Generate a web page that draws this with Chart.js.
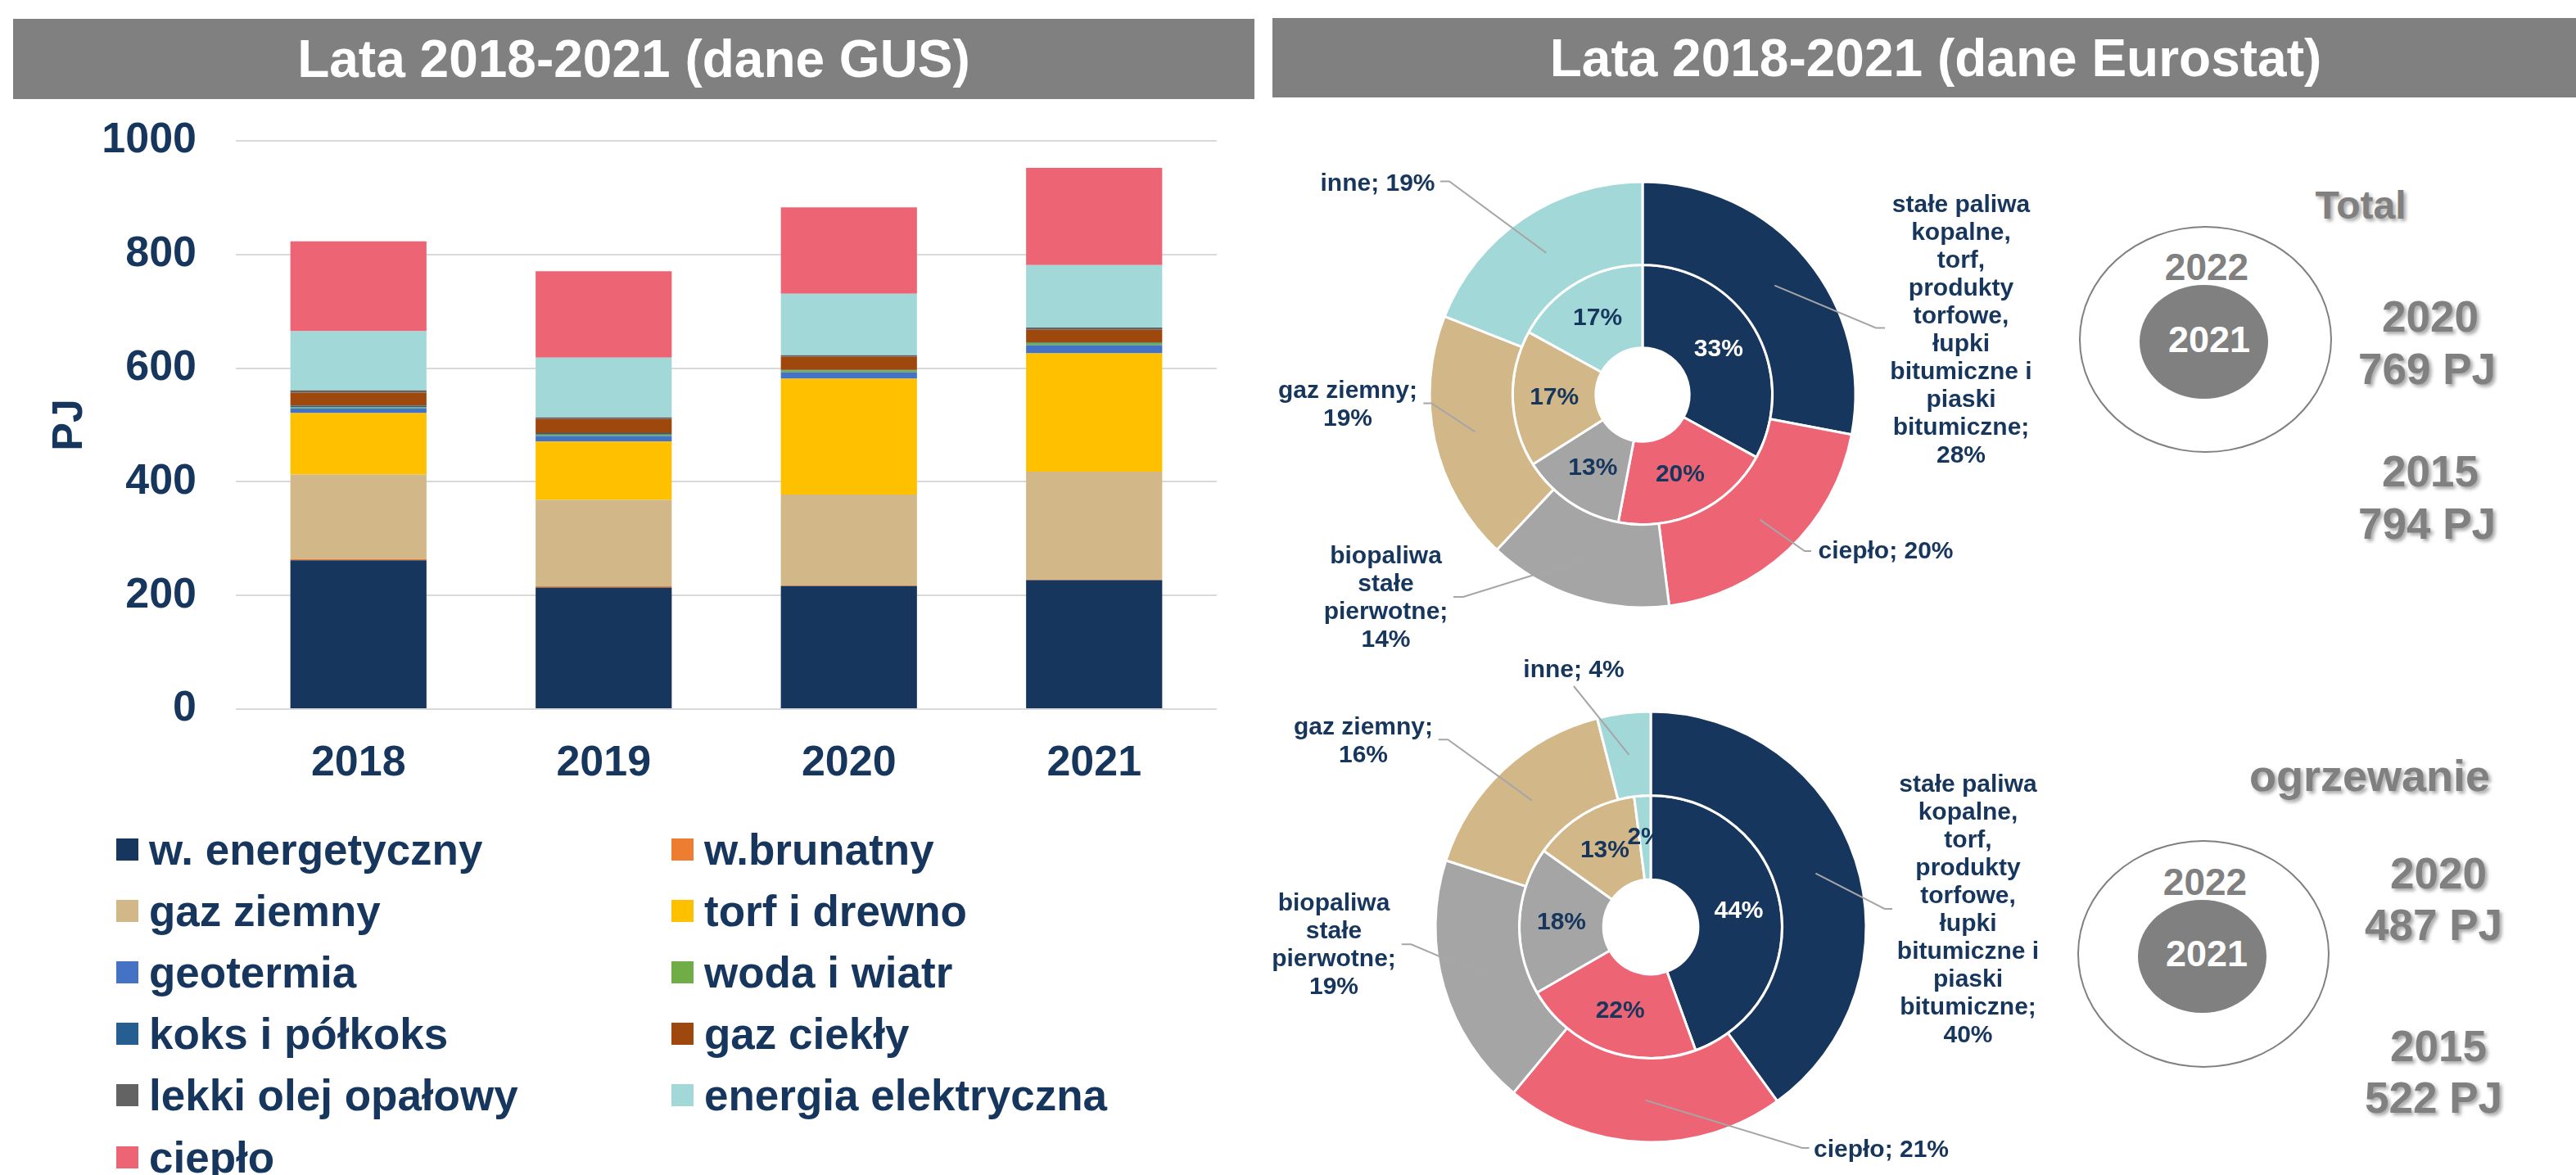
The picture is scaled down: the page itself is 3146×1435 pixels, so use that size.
<!DOCTYPE html>
<html lang="pl">
<head>
<meta charset="utf-8">
<title>Lata 2018-2021</title>
<script src="https://cdn.jsdelivr.net/npm/chart.js@4.4.1/dist/chart.umd.min.js"></script>
<style>
  html, body { margin: 0; padding: 0; background: #fff; }
  body {
    width: 3146px; height: 1435px; position: relative; overflow: hidden;
    font-family: "Liberation Sans", Arial, sans-serif; font-weight: bold;
  }
  canvas { position: absolute; }
  .head {
    position: absolute; background: #808080; color: #fff; font-size: 64px;
    display: flex; align-items: center; justify-content: center; box-sizing: border-box;
  }
  .note {
    position: absolute; transform: translate(-50%, -50%); line-height: 1;
    color: #808080; white-space: nowrap;
  }
  .shadow { text-shadow: 3px 3px 4px rgba(0, 0, 0, 0.35); }
  .ring { position: absolute; border-radius: 50%; box-sizing: border-box; }
  .leg { position: absolute; height: 60px; display: flex; align-items: center; color: #17365D; font-size: 53px; white-space: nowrap; }
  .leg span.box { width: 27px; height: 27px; margin-right: 13px; }
</style>
</head>
<body>

<div class="head" style="left:16px;top:23px;width:1516px;height:98px;">Lata 2018-2021 (dane GUS)</div>
<div class="head" style="left:1554px;top:22px;width:1592px;height:97px;padding-left:28px;">Lata 2018-2021 (dane Eurostat)</div>

<canvas id="barChart" width="1540" height="820" style="left:0;top:140px;"></canvas>
<div id="legend"></div>

<canvas id="totalChart" width="955" height="665" style="left:1545px;top:125px;"></canvas>
<canvas id="heatChart" width="955" height="645" style="left:1545px;top:790px;"></canvas>

<!-- Total -->
<div class="note shadow" style="left:2883px;top:251px;font-size:48px;">Total</div>
<div class="ring" style="left:2539px;top:276px;width:309px;height:277px;border:2px solid #808080;"></div>
<div class="note" style="left:2695px;top:326px;font-size:46px;">2022</div>
<div class="ring" style="left:2613px;top:348px;width:157px;height:139px;background:#808080;"></div>
<div class="note" style="left:2698px;top:414px;font-size:45px;color:#fff;">2021</div>
<div class="note shadow" style="left:2968px;top:386px;font-size:53px;">2020</div>
<div class="note shadow" style="left:2964px;top:450px;font-size:53px;">769 PJ</div>
<div class="note shadow" style="left:2968px;top:575px;font-size:53px;">2015</div>
<div class="note shadow" style="left:2964px;top:639px;font-size:53px;">794 PJ</div>

<!-- ogrzewanie -->
<div class="note shadow" style="left:2894px;top:947px;font-size:54px;">ogrzewanie</div>
<div class="ring" style="left:2537px;top:1026px;width:308px;height:278px;border:2px solid #808080;"></div>
<div class="note" style="left:2693px;top:1077px;font-size:46px;">2022</div>
<div class="ring" style="left:2611px;top:1099px;width:157px;height:138px;background:#808080;"></div>
<div class="note" style="left:2695px;top:1164px;font-size:45px;color:#fff;">2021</div>
<div class="note shadow" style="left:2978px;top:1066px;font-size:53px;">2020</div>
<div class="note shadow" style="left:2972px;top:1129px;font-size:53px;">487 PJ</div>
<div class="note shadow" style="left:2978px;top:1277px;font-size:53px;">2015</div>
<div class="note shadow" style="left:2972px;top:1340px;font-size:53px;">522 PJ</div>

<script>
// --- dane GUS (PJ) ---
const years = ['2018', '2019', '2020', '2021'];
const wEnergetyczny = [262, 214, 216.5, 227];
const wBrunatny = [2, 2, 1, 1];
const gazZiemny = [149, 152, 160, 190];
const torfDrewno = [108, 103, 204, 208];
const geotermia = [8, 9.5, 11, 14.5];
const wodaWiatr = [2, 2.5, 3.5, 4];
const koksPolkoks = [3, 2.5, 1, 1];
const gazCiekly = [23, 25, 23, 22];
const lekkiOlej = [4, 3, 3, 4];
const energiaElektryczna = [104, 105, 108, 110];
const cieplo = [158, 152, 152, 171];
const yTicks = [0, 200, 400, 600, 800, 1000];

const seriesNames = ['w. energetyczny', 'w.brunatny', 'gaz ziemny', 'torf i drewno', 'geotermia',
  'woda i wiatr', 'koks i półkoks', 'gaz ciekły', 'lekki olej opałowy', 'energia elektryczna', 'ciepło'];
const seriesValues = [wEnergetyczny, wBrunatny, gazZiemny, torfDrewno, geotermia,
  wodaWiatr, koksPolkoks, gazCiekly, lekkiOlej, energiaElektryczna, cieplo];

// --- dane Eurostat (%) ---
const eurostatCategories = ['stałe paliwa kopalne, torf, produkty torfowe, łupki bitumiczne i piaski bitumiczne',
  'ciepło', 'biopaliwa stałe pierwotne', 'gaz ziemny', 'inne'];
const total2022 = [28, 20, 14, 19, 19];
const total2021 = [33, 20, 13, 17, 17];
const heating2022 = [40, 21, 19, 16, 4];
const heating2021 = [44, 22, 18, 13, 2];

// styles
const NAVY = '#17365D';
const seriesColors = ['#17365D', '#ED7D31', '#D2B788', '#FFC000', '#4472C4',
  '#70AD47', '#255E91', '#9E480E', '#636363', '#A3D8D8', '#ED6575'];
const ringColors = ['#17365D', '#ED6575', '#A5A5A5', '#D2B788', '#A3D8D8'];

Chart.defaults.font.family = '"Liberation Sans", Arial, sans-serif';
Chart.defaults.font.weight = 'bold';
Chart.defaults.color = NAVY;
Chart.defaults.animation = false;

// ---------- stacked bars ----------
new Chart(document.getElementById('barChart'), {
  type: 'bar',
  data: {
    labels: years,
    datasets: seriesNames.map((name, i) => ({
      label: name,
      data: seriesValues[i],
      backgroundColor: seriesColors[i],
      borderWidth: 0,
      barPercentage: 0.555,
      categoryPercentage: 1
    }))
  },
  options: {
    responsive: false,
    events: [],
    layout: { padding: { top: 32, right: 54, left: 0, bottom: 0 } },
    plugins: { legend: { display: false }, tooltip: { enabled: false } },
    scales: {
      x: {
        stacked: true,
        grid: { display: false },
        border: { display: false },
        ticks: { font: { size: 52, weight: 'bold' }, color: NAVY, padding: 27 },
        afterFit: s => { s.height = 94; }
      },
      y: {
        stacked: true,
        min: 0, max: 1000,
        afterBuildTicks: s => { s.ticks = yTicks.map(v => ({ value: v })); },
        grid: { color: '#D9D9D9', lineWidth: 2, drawTicks: false },
        border: { display: false },
        ticks: { font: { size: 52, weight: 'bold' }, color: NAVY, padding: 48, callback: v => String(v) },
        title: { display: true, text: 'PJ', font: { size: 52, weight: 'bold' }, color: NAVY, padding: { top: 54, bottom: 0 } },
        afterFit: s => { s.width = 288; s.paddingTop = 0; s.paddingBottom = 0; }
      }
    }
  }
});

// legend built from the series
const legendEl = document.getElementById('legend');
seriesNames.forEach((name, i) => {
  const col = i % 2, row = Math.floor(i / 2);
  const item = document.createElement('div');
  item.className = 'leg';
  item.style.left = (col === 0 ? 142 : 820) + 'px';
  item.style.top = (1037 + row * 75.2 - 30) + 'px';
  const box = document.createElement('span');
  box.className = 'box';
  box.style.background = seriesColors[i];
  item.appendChild(box);
  item.appendChild(document.createTextNode(name));
  legendEl.appendChild(item);
});

// ---------- doughnuts ----------
function wrapText(ctx, text, maxWidth) {
  const words = text.split(' ');
  const lines = [];
  let line = '';
  words.forEach(w => {
    const test = line ? line + ' ' + w : w;
    if (line && ctx.measureText(test).width > maxWidth) { lines.push(line); line = w; }
    else line = test;
  });
  if (line) lines.push(line);
  return lines;
}

const ringLabels = {
  id: 'ringLabels',
  afterDatasetsDraw(chart, args, opts) {
    const ctx = chart.ctx;
    const outer = chart.getDatasetMeta(0);
    const inner = chart.getDatasetMeta(1);
    const cx = outer.data[0].x, cy = outer.data[0].y;
    ctx.save();
    ctx.font = 'bold 30px "Liberation Sans", Arial, sans-serif';
    ctx.textAlign = 'center';
    ctx.textBaseline = 'middle';

    // leader lines + outer labels
    outer.data.forEach((arc, i) => {
      const lay = opts.layout[i];
      const p = arc.tooltipPosition();
      ctx.strokeStyle = '#A6A6A6';
      ctx.lineWidth = 2;
      ctx.beginPath();
      ctx.moveTo(p.x, p.y);
      ctx.lineTo(cx + lay.elbow[0], cy + lay.elbow[1]);
      if (lay.stub) ctx.lineTo(cx + lay.stub[0], cy + lay.stub[1]);
      ctx.stroke();
      const text = chart.data.labels[i] + '; ' + chart.data.datasets[0].data[i] + '%';
      const lines = wrapText(ctx, text, 180);
      ctx.fillStyle = NAVY;
      lines.forEach((ln, k) => {
        ctx.fillText(ln, cx + lay.text[0], cy + lay.text[1] + (k - (lines.length - 1) / 2) * 34);
      });
    });

    // inner ring percentages
    inner.data.forEach((arc, i) => {
      const p = arc.tooltipPosition();
      ctx.fillStyle = i === 0 ? '#fff' : NAVY;
      ctx.fillText(chart.data.datasets[1].data[i] + '%', p.x, p.y);
    });
    ctx.restore();
  }
};

function makeRings(id, outerData, innerData, radius, padding, layout) {
  return new Chart(document.getElementById(id), {
    type: 'doughnut',
    data: {
      labels: eurostatCategories,
      datasets: [
        { label: '2022', data: outerData, backgroundColor: ringColors, borderColor: '#fff', borderWidth: 3 },
        { label: '2021', data: innerData, backgroundColor: ringColors, borderColor: '#fff', borderWidth: 3 }
      ]
    },
    options: {
      responsive: false,
      events: [],
      radius: radius,
      cutout: '22%',
      layout: { padding: padding },
      plugins: { legend: { display: false }, tooltip: { enabled: false }, ringLabels: { layout: layout } }
    },
    plugins: [ringLabels]
  });
}

// label positions relative to the ring centre (text centre, bend of leader, end of stub)
const totalLayout = [
  { text: [389, -78.5], elbow: [285, -81.5], stub: [296, -81.5] },
  { text: [297, 192], elbow: [198, 191], stub: [206, 191] },
  { text: [-313.5, 248.5], elbow: [-219, 247], stub: [-231, 247] },
  { text: [-360, 12.3], elbow: [-257.7, 10.4], stub: [-267.7, 10.4] },
  { text: [-323.5, -257.7], elbow: [-236, -260.5], stub: [-247, -260.5] }
];
const heatLayout = [
  { text: [387.5, -20], elbow: [285.6, -22], stub: [295, -22] },
  { text: [281.5, 272.5], elbow: [185, 270], stub: [193.5, 270] },
  { text: [-387, 23], elbow: [-292.7, 21.3], stub: [-304.3, 21.3] },
  { text: [-351, -226], elbow: [-247.7, -228.7], stub: [-259.3, -228.7] },
  { text: [-94, -313], elbow: [-94, -294], stub: null }
];

makeRings('totalChart', total2022, total2021, 260, { left: 191, right: 224, top: 87, bottom: 38 }, totalLayout);
makeRings('heatChart', heating2022, heating2021, 263, { left: 196, right: 209, top: 67, bottom: 28 }, heatLayout);
</script>
</body>
</html>
